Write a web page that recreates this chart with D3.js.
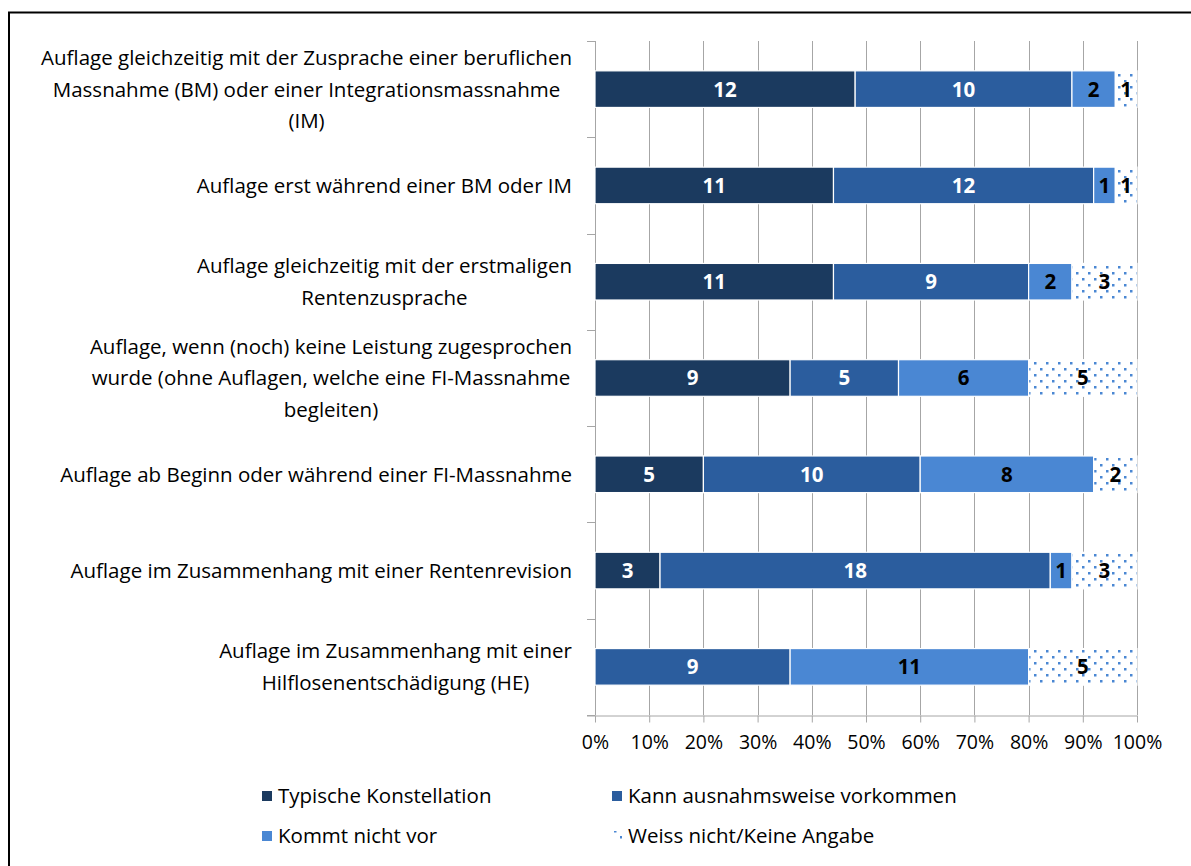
<!DOCTYPE html>
<html><head><meta charset="utf-8">
<script src="https://cdn.jsdelivr.net/npm/d3@7"></script>
<style>body{margin:0;background:#fff}svg{display:block}</style>
</head><body>
<svg id="c" width="1191" height="866"></svg>
<script>
const categories = [
  ["Auflage gleichzeitig mit der Zusprache einer beruflichen","Massnahme (BM) oder einer Integrationsmassnahme","(IM)"],
  ["Auflage erst während einer BM oder IM"],
  ["Auflage gleichzeitig mit der erstmaligen","Rentenzusprache"],
  ["Auflage, wenn (noch) keine Leistung zugesprochen","wurde (ohne Auflagen, welche eine FI-Massnahme","begleiten)"],
  ["Auflage ab Beginn oder während einer FI-Massnahme"],
  ["Auflage im Zusammenhang mit einer Rentenrevision"],
  ["Auflage im Zusammenhang mit einer","Hilflosenentschädigung (HE)"]
];
const seriesNames = ["Typische Konstellation","Kann ausnahmsweise vorkommen","Kommt nicht vor","Weiss nicht/Keine Angabe"];
const typisch = [12,11,11,9,5,3,0];
const kann    = [10,12,9,5,10,18,9];
const kommt   = [2,1,2,6,8,1,11];
const weiss   = [1,1,3,5,2,3,5];
const tickValues = [0,0.1,0.2,0.3,0.4,0.5,0.6,0.7,0.8,0.9,1];

const colors = ["#1b3a5f","#2b5d9e","#4a87d3","url(#dots)"];
const labelColors = ["#fff","#fff","#000","#000"];
const FONT = "'Open Sans', sans-serif";
const FS = 20.5;

const svg = d3.select("#c");
const defs = svg.append("defs");
const pat = defs.append("pattern").attr("id","dots").attr("patternUnits","userSpaceOnUse")
  .attr("width",12).attr("height",12);
pat.append("rect").attr("width",12).attr("height",12).attr("fill","#fff");
pat.append("rect").attr("x",2).attr("y",2).attr("width",2.5).attr("height",2.5).attr("fill","#4a87d3");
pat.append("rect").attr("x",8).attr("y",8).attr("width",2.5).attr("height",2.5).attr("fill","#4a87d3");

// frame
svg.append("rect").attr("x",9).attr("y",12.5).attr("width",1300).attr("height",1000)
  .attr("fill","none").attr("stroke","#000").attr("stroke-width",2);

const x = d3.scaleLinear().domain([0,1]).range([595,1137]);
const y = d3.scaleBand().domain(d3.range(categories.length)).range([41,715]).paddingInner(0.62).paddingOuter(0.31);

const rows = categories.map((c,i)=>{
  const vals=[typisch[i],kann[i],kommt[i],weiss[i]];
  const tot=d3.sum(vals);
  let acc=0;
  return vals.map((v,k)=>{const s={row:i,k,v,x0:acc/tot,x1:(acc+v)/tot};acc+=v;return s;});
});

// gridlines
const g = svg.append("g");
g.selectAll("line.grid").data(tickValues.slice(1)).join("line")
  .attr("x1",d=>Math.round(x(d))+0.5).attr("x2",d=>Math.round(x(d))+0.5)
  .attr("y1",41).attr("y2",715).attr("stroke","#a6a6a6").attr("stroke-width",1);

// x axis
const xAxis = d3.axisBottom(x).tickValues(tickValues).tickFormat(d3.format(".0%")).tickSizeOuter(0).tickSize(7).tickPadding(13);
const xa = svg.append("g").attr("transform","translate(0,715.5)").call(xAxis);
xa.select(".domain").attr("stroke","#a6a6a6").attr("d","M587,0.5H1137");
xa.selectAll(".tick line").attr("stroke","#a6a6a6");
xa.selectAll("text").attr("font-family",FONT).attr("font-size",19.5).attr("fill","#000");

// y axis ticks at band boundaries
const bounds = d3.range(categories.length+1).map(i=>41 + i*(674/categories.length));
svg.append("line").attr("x1",595.5).attr("x2",595.5).attr("y1",41).attr("y2",715).attr("stroke","#a6a6a6");
svg.selectAll("line.yt").data(bounds).join("line").attr("class","yt")
  .attr("x1",587).attr("x2",595).attr("y1",d=>Math.round(d)+0.5).attr("y2",d=>Math.round(d)+0.5)
  .attr("stroke","#a6a6a6");

// bars
const segs = rows.flat().filter(d=>d.v>0);
svg.append("g").selectAll("rect").data(segs).join("rect")
  .attr("x",d=>x(d.x0)).attr("width",d=>x(d.x1)-x(d.x0))
  .attr("y",d=>y(d.row)).attr("height",y.bandwidth())
  .attr("fill",d=>colors[d.k]).attr("stroke","#fff").attr("stroke-width",1.2);

svg.append("g").selectAll("text").data(segs).join("text")
  .attr("x",d=>(x(d.x0)+x(d.x1))/2).attr("y",d=>y(d.row)+y.bandwidth()/2)
  .attr("dy","0.36em").attr("text-anchor","middle")
  .attr("font-family",FONT).attr("font-weight","bold").attr("font-size",FS)
  .attr("fill",d=>labelColors[d.k]).text(d=>d.v);

// category labels
const lh = 31.5;
categories.forEach((lines,i)=>{
  const cy = y(i)+y.bandwidth()/2;
  const grp = svg.append("g");
  const ts = grp.selectAll("text").data(lines).join("text")
    .attr("font-family",FONT).attr("font-size",FS).attr("fill","#000")
    .attr("text-anchor","middle").attr("dy","0.36em")
    .attr("y",(d,j)=>cy+(j-(lines.length-1)/2)*lh).text(d=>d);
  const maxW = d3.max(ts.nodes(),n=>n.getComputedTextLength());
  ts.attr("x",572-maxW/2);
});

// legend
const legPos = [[262,796],[612,796],[262,836],[612,836]];
seriesNames.forEach((n,k)=>{
  const [lx,ly]=legPos[k];
  svg.append("rect").attr("x",lx).attr("y",ly-5).attr("width",10).attr("height",10).attr("fill",colors[k]);
  svg.append("text").attr("x",lx+16).attr("y",ly).attr("dy","0.36em")
    .attr("font-family",FONT).attr("font-size",FS).attr("fill","#000").text(n);
});
</script>
</body></html>
